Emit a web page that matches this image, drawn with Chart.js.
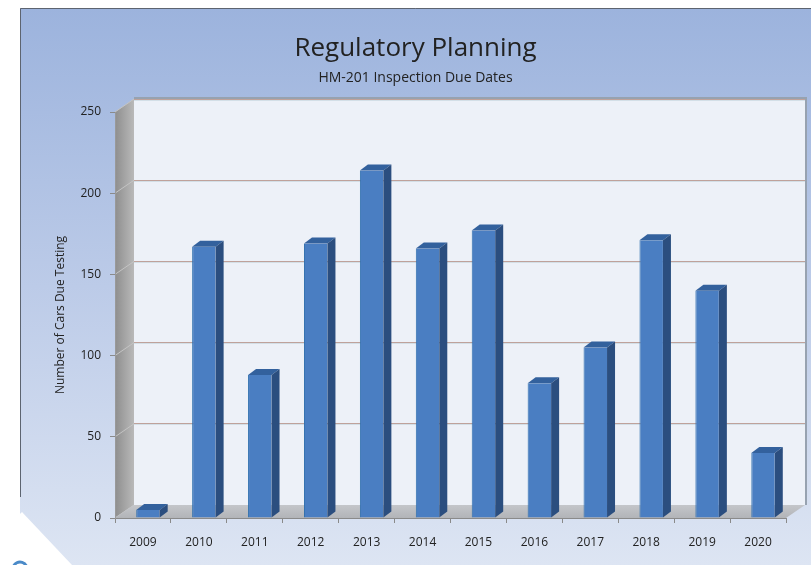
<!DOCTYPE html>
<html><head><meta charset="utf-8">
<script src="https://cdn.jsdelivr.net/npm/chart.js@4/dist/chart.umd.min.js"></script>
<style>html,body{margin:0;padding:0;background:#fff;overflow:hidden}canvas{display:block}</style>
</head><body>
<canvas id="c" width="811" height="565"></canvas>
<script>
const years = ['2009','2010','2011','2012','2013','2014','2015','2016','2017','2018','2019','2020'];
const carsDue = [5, 167, 88, 169, 214, 166, 177, 83, 105, 171, 140, 40];
const yTicks = [0, 50, 100, 150, 200, 250];
const chartTitle = 'Regulatory Planning';
const chartSubtitle = 'HM-201 Inspection Due Dates';
const yAxisTitle = 'Number of Cars Due Testing';

// 3D look parameters
const WALL_DX = 19, WALL_DY = -13;   // back wall offset
const BAR_DX = 8, BAR_DY = -6;       // bar depth
const BAR_SHIFT = 5;                 // bars sit slightly right of category centre

Chart.defaults.font.family = "'Open Sans', 'Noto Sans', sans-serif";
Chart.defaults.color = '#222';

const scenePlugin = {
  id: 'scene',
  beforeDraw(chart) {
    const ctx = chart.ctx, W = chart.width, H = chart.height;
    ctx.save();
    ctx.fillStyle = '#ffffff';
    ctx.fillRect(0, 0, W, H);
    const g = ctx.createLinearGradient(0, 8, 0, H);
    g.addColorStop(0, '#9cb3dd');
    g.addColorStop(0.5, '#bccbe8');
    g.addColorStop(1, '#dde5f3');
    ctx.fillStyle = g;
    ctx.fillRect(20, 8, W - 20, H - 8);
    // white corner piece
    ctx.fillStyle = '#ffffff';
    ctx.beginPath();
    ctx.moveTo(0, 533); ctx.lineTo(22, 512); ctx.lineTo(72, 565); ctx.lineTo(0, 565);
    ctx.closePath(); ctx.fill();
    ctx.strokeStyle = '#4a8ac8'; ctx.lineWidth = 3;
    ctx.beginPath(); ctx.arc(20, 569, 7, Math.PI * 1.1, Math.PI * 1.9); ctx.stroke();
    // panel border
    ctx.strokeStyle = '#5d6470'; ctx.lineWidth = 1;
    ctx.beginPath(); ctx.moveTo(20.5, 497); ctx.lineTo(20.5, 8.5); ctx.lineTo(W, 8.5); ctx.stroke();

    // walls
    const xs = chart.scales.x, ys = chart.scales.y;
    const L = xs.left, R = xs.right;
    const yTop = ys.getPixelForValue(yTicks[yTicks.length - 1]);
    const y0 = ys.getPixelForValue(0);
    // back wall
    ctx.fillStyle = '#edf1f8';
    ctx.fillRect(L + WALL_DX, yTop + WALL_DY, R - L, y0 - yTop);
    // back wall top shadow + right shadow
    ctx.strokeStyle = '#97a2b0'; ctx.lineWidth = 2;
    ctx.beginPath();
    ctx.moveTo(L + WALL_DX, yTop + WALL_DY - 1);
    ctx.lineTo(R + WALL_DX + 1, yTop + WALL_DY - 1);
    ctx.lineTo(R + WALL_DX + 1, y0 + WALL_DY);
    ctx.stroke();
    // gridlines on back wall
    yTicks.forEach(v => {
      if (v === 0) return;
      const yy = Math.floor(ys.getPixelForValue(v) + WALL_DY);
      ctx.fillStyle = '#bfa29b';
      ctx.fillRect(L + WALL_DX, yy, R - L, 1);
      ctx.fillStyle = '#d3dfe7';
      ctx.fillRect(L + WALL_DX, yy + 1, R - L, 1);
    });
    // left wall
    const lg = ctx.createLinearGradient(L, 0, L + WALL_DX, 0);
    lg.addColorStop(0, '#8e8e8e');
    lg.addColorStop(1, '#b9b9b9');
    ctx.fillStyle = lg;
    ctx.beginPath();
    ctx.moveTo(L, yTop); ctx.lineTo(L + WALL_DX, yTop + WALL_DY);
    ctx.lineTo(L + WALL_DX, y0 + WALL_DY); ctx.lineTo(L, y0);
    ctx.closePath(); ctx.fill();
    ctx.strokeStyle = '#c4c4c4'; ctx.lineWidth = 1;
    yTicks.forEach(v => {
      const yy = ys.getPixelForValue(v);
      ctx.beginPath(); ctx.moveTo(L, yy); ctx.lineTo(L + WALL_DX, yy + WALL_DY); ctx.stroke();
    });
    // floor
    const fg = ctx.createLinearGradient(0, y0 + WALL_DY, 0, y0);
    fg.addColorStop(0, '#c4c6ca');
    fg.addColorStop(1, '#b2b4b8');
    ctx.fillStyle = fg;
    ctx.beginPath();
    ctx.moveTo(L, y0); ctx.lineTo(R, y0);
    ctx.lineTo(R + WALL_DX, y0 + WALL_DY); ctx.lineTo(L + WALL_DX, y0 + WALL_DY);
    ctx.closePath(); ctx.fill();
    ctx.restore();
  },
  beforeDatasetsDraw(chart) {
    chart.ctx.save();
    chart.ctx.translate(BAR_SHIFT, 0);
  },
  afterDatasetsDraw(chart) {
    const ctx = chart.ctx;
    const meta = chart.getDatasetMeta(0);
    meta.data.forEach(bar => {
      const p = bar.getProps(['x', 'y', 'width', 'base'], true);
      const l = p.x - p.width / 2, r = p.x + p.width / 2;
      // top face
      ctx.fillStyle = '#33619d';
      ctx.beginPath();
      ctx.moveTo(l, p.y); ctx.lineTo(r, p.y);
      ctx.lineTo(r + BAR_DX, p.y + BAR_DY); ctx.lineTo(l + BAR_DX, p.y + BAR_DY);
      ctx.closePath(); ctx.fill();
      // side face
      ctx.fillStyle = '#2b4e7f';
      ctx.beginPath();
      ctx.moveTo(r, p.y); ctx.lineTo(r + BAR_DX, p.y + BAR_DY);
      ctx.lineTo(r + BAR_DX, p.base + BAR_DY); ctx.lineTo(r, p.base);
      ctx.closePath(); ctx.fill();
    });
    ctx.restore();
  }
};

new Chart(document.getElementById('c'), {
  type: 'bar',
  data: {
    labels: years,
    datasets: [{
      data: carsDue,
      backgroundColor: '#4a7ec2',
      borderColor: '#2f6fae',
      borderWidth: { left: 1, right: 0, top: 0, bottom: 0 },
      categoryPercentage: 1,
      barPercentage: 0.42
    }]
  },
  options: {
    responsive: false,
    devicePixelRatio: 1,
    animation: false,
    layout: { padding: { left: 45, right: 25, top: 0, bottom: 0 } },
    plugins: {
      legend: { display: false },
      tooltip: { enabled: false },
      title: {
        display: true, text: chartTitle, color: '#222',
        font: { size: 26, weight: 'normal', lineHeight: 1.2 },
        padding: { top: 33, bottom: 0 }
      },
      subtitle: {
        display: true, text: chartSubtitle, color: '#222',
        font: { size: 14, weight: 'normal', lineHeight: 1.2 },
        padding: { top: 5, bottom: 26 }
      }
    },
    scales: {
      x: {
        grid: { offset: true, drawOnChartArea: false, drawTicks: true, tickLength: 5, color: '#8a8a8a' },
        border: { display: true, color: '#8a8a8a' },
        ticks: { color: '#222', font: { size: 12 }, padding: 12 },
        afterFit(s) { s.height = 47; }
      },
      y: {
        min: 0, max: 250,
        afterBuildTicks(s) { s.ticks = yTicks.map(v => ({ value: v })); },
        grid: { drawOnChartArea: false, drawTicks: true, tickLength: 5, color: '#8a8a8a' },
        border: { display: true, color: '#999' },
        ticks: { color: '#222', font: { size: 12 }, padding: 9 },
        title: {
          display: true, text: yAxisTitle, color: '#222',
          font: { size: 12 }, padding: { top: 8, bottom: 0 }
        },
        afterFit(s) { s.width = 70; }
      }
    }
  },
  plugins: [scenePlugin]
});
</script>
</body></html>
